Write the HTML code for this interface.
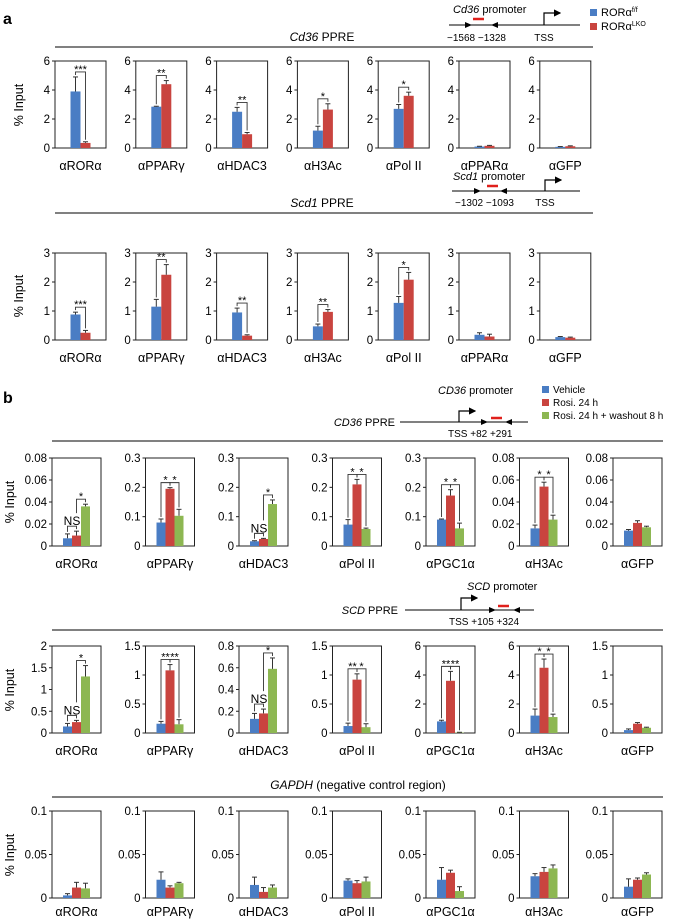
<!DOCTYPE html>
<html><head><meta charset="utf-8"><style>
html,body{margin:0;padding:0;background:#fff;}
svg{display:block;font-family:"Liberation Sans",Arial,sans-serif;}
</style></head><body>
<svg id="fig" width="675" height="919" viewBox="0 0 675 919" xmlns="http://www.w3.org/2000/svg">
<defs><marker id="ah" markerWidth="6" markerHeight="6" refX="5" refY="3" orient="auto"><path d="M0,0 L6,3 L0,6 z" fill="#000"/></marker></defs>
<text x="3" y="24" font-size="16" font-weight="bold">a</text>
<text x="3" y="403" font-size="16" font-weight="bold">b</text>
<g>
<rect x="590" y="9" width="7" height="7" fill="#4a7dc4"/><text x="601" y="16" font-size="11">RORα<tspan font-size="7" dy="-4">f/f</tspan></text>
<rect x="590" y="23" width="7" height="7" fill="#c9443f"/><text x="601" y="30" font-size="11">RORα<tspan font-size="7" dy="-4">LKO</tspan></text>
</g>
<g>
<rect x="542" y="386" width="7" height="7" fill="#4a7dc4"/><text x="553" y="393" font-size="10">Vehicle</text>
<rect x="542" y="399" width="7" height="7" fill="#c9443f"/><text x="553" y="406" font-size="10">Rosi. 24 h</text>
<rect x="542" y="412" width="7" height="7" fill="#8db752"/><text x="553" y="419" font-size="10">Rosi. 24 h + washout 8 h</text>
</g>
<g font-size="11">
<text x="453" y="13"><tspan font-style="italic">Cd36</tspan> promoter</text>
<line x1="449" y1="25" x2="580" y2="25" stroke="#000"/>
<path d="M465,22 L472,25 L465,28 z M498,22 L491,25 L498,28 z"/>
<line x1="473" y1="19" x2="484" y2="19" stroke="#e0201c" stroke-width="2.5"/>
<path d="M544,25 V13 H560" stroke="#000" fill="none" stroke-width="1.2" marker-end="url(#ah)"/>
<text x="447" y="41" font-size="10">−1568 −1328</text><text x="544" y="41" font-size="10" text-anchor="middle">TSS</text>
</g>
<g font-size="11">
<text x="453" y="180"><tspan font-style="italic">Scd1</tspan> promoter</text>
<line x1="452" y1="191" x2="580" y2="191" stroke="#000"/>
<path d="M474,188 L481,191 L474,194 z M507,188 L500,191 L507,194 z"/>
<line x1="487" y1="186" x2="498" y2="186" stroke="#e0201c" stroke-width="2.5"/>
<path d="M545,191 V180 H561" stroke="#000" fill="none" stroke-width="1.2" marker-end="url(#ah)"/>
<text x="455" y="206" font-size="10">−1302 −1093</text><text x="545" y="206" font-size="10" text-anchor="middle">TSS</text>
</g>
<g font-size="11">
<text x="438" y="394"><tspan font-style="italic">CD36</tspan> promoter</text>
<text x="395" y="426" text-anchor="end"><tspan font-style="italic">CD36</tspan> PPRE</text>
<line x1="400" y1="422" x2="528" y2="422" stroke="#000"/>
<path d="M481,419 L488,422 L481,425 z M512,419 L505,422 L512,425 z"/>
<line x1="491" y1="418" x2="502" y2="418" stroke="#e0201c" stroke-width="2.5"/>
<path d="M459,422 V411 H475" stroke="#000" fill="none" stroke-width="1.2" marker-end="url(#ah)"/>
<text x="448" y="437" font-size="10">TSS  +82  +291</text>
</g>
<g font-size="11">
<text x="467" y="590"><tspan font-style="italic">SCD</tspan> promoter</text>
<text x="398" y="614" text-anchor="end"><tspan font-style="italic">SCD</tspan> PPRE</text>
<line x1="405" y1="610" x2="534" y2="610" stroke="#000"/>
<path d="M489,607 L496,610 L489,613 z M520,607 L513,610 L520,613 z"/>
<line x1="498" y1="606" x2="509" y2="606" stroke="#e0201c" stroke-width="2.5"/>
<path d="M461,610 V598 H477" stroke="#000" fill="none" stroke-width="1.2" marker-end="url(#ah)"/>
<text x="449" y="625" font-size="10">TSS  +105 +324</text>
</g>
<text x="322" y="41" font-size="12" text-anchor="middle"><tspan font-style="italic">Cd36</tspan> PPRE</text>
<line x1="55" y1="47" x2="593" y2="47" stroke="#000"/>
<text x="322" y="207" font-size="12" text-anchor="middle"><tspan font-style="italic">Scd1</tspan> PPRE</text>
<line x1="55" y1="213" x2="593" y2="213" stroke="#000"/>
<line x1="52" y1="441" x2="663" y2="441" stroke="#000"/>
<line x1="52" y1="630" x2="663" y2="630" stroke="#000"/>
<text x="358" y="789" font-size="12" text-anchor="middle"><tspan font-style="italic">GAPDH</tspan> (negative control region)</text>
<line x1="52" y1="797" x2="663" y2="797" stroke="#000"/>
</svg>
<script>
const aCats = ['αRORα','αPPARγ','αHDAC3','αH3Ac','αPol II','αPPARα','αGFP'];
const bCats = ['αRORα','αPPARγ','αHDAC3','αPol II','αPGC1α','αH3Ac','αGFP'];
// Row a1: Cd36 PPRE
const a1Ff = [3.9,2.85,2.5,1.2,2.7,0.1,0.08];
const a1FfErr = [1.0,0.03,0.3,0.3,0.3,0.02,0.02];
const a1Lko = [0.35,4.4,0.95,2.65,3.6,0.15,0.12];
const a1LkoErr = [0.08,0.25,0.12,0.4,0.25,0.03,0.03];
const a1Ticks = ['0','2','4','6'];
const a1Max = 6;
const a1Sig = ['***','**','**','*','*','',''];
// Row a2: Scd1 PPRE
const a2Ff = [0.88,1.15,0.95,0.47,1.28,0.18,0.1];
const a2FfErr = [0.08,0.25,0.15,0.08,0.22,0.07,0.02];
const a2Lko = [0.25,2.25,0.15,0.97,2.08,0.12,0.08];
const a2LkoErr = [0.08,0.35,0.03,0.08,0.25,0.08,0.02];
const a2Ticks = ['0','1','2','3'];
const a2Max = 3;
const a2Sig = ['***','**','**','**','*','',''];
// Row b1: CD36 PPRE
const b1Veh = [0.007,0.08,0.016,0.073,0.09,0.016,0.014];
const b1VehErr = [0.004,0.012,0.002,0.017,0.002,0.003,0.001];
const b1Rosi = [0.0095,0.195,0.024,0.21,0.172,0.054,0.021];
const b1RosiErr = [0.004,0.004,0.002,0.017,0.02,0.004,0.002];
const b1Wash = [0.036,0.103,0.143,0.058,0.06,0.024,0.017];
const b1WashErr = [0.002,0.022,0.014,0.003,0.018,0.004,0.001];
const b1Max = [0.08,0.3,0.3,0.3,0.3,0.08,0.08];
const b1Ticks = [['0','0.02','0.04','0.06','0.08'],['0','0.1','0.2','0.3'],['0','0.1','0.2','0.3'],['0','0.1','0.2','0.3'],['0','0.1','0.2','0.3'],['0','0.02','0.04','0.06','0.08'],['0','0.02','0.04','0.06','0.08']];
const b1Sig = [[[0,1,'NS'],[1,2,'*']],[[0,1,'*'],[1,2,'*']],[[0,1,'NS'],[1,2,'*']],[[0,1,'*'],[1,2,'*']],[[0,1,'*'],[1,2,'*']],[[0,1,'*'],[1,2,'*']],[]];
// Row b2: SCD PPRE
const b2Veh = [0.15,0.16,0.13,0.12,0.8,1.2,0.05];
const b2VehErr = [0.07,0.04,0.05,0.05,0.08,0.45,0.02];
const b2Rosi = [0.25,1.08,0.18,0.92,3.6,4.5,0.16];
const b2RosiErr = [0.04,0.1,0.04,0.1,0.65,0.6,0.02];
const b2Wash = [1.3,0.15,0.59,0.1,0.03,1.1,0.09];
const b2WashErr = [0.25,0.08,0.1,0.06,0.02,0.2,0.01];
const b2Max = [2,1.5,0.8,1.5,6,6,1.5];
const b2Ticks = [['0','0.5','1','1.5','2'],['0','0.5','1','1.5'],['0','0.2','0.4','0.6','0.8'],['0','0.5','1','1.5'],['0','2','4','6'],['0','2','4','6'],['0','0.5','1','1.5']];
const b2Sig = [[[0,1,'NS'],[1,2,'*']],[[0,1,'**'],[1,2,'**']],[[0,1,'NS'],[1,2,'*']],[[0,1,'**'],[1,2,'*']],[[0,1,'**'],[1,2,'**']],[[0,1,'*'],[1,2,'*']],[]];
// Row b3: GAPDH
const b3Veh = [0.003,0.021,0.015,0.02,0.021,0.025,0.013];
const b3VehErr = [0.002,0.009,0.009,0.002,0.014,0.003,0.009];
const b3Rosi = [0.012,0.012,0.007,0.017,0.029,0.03,0.021];
const b3RosiErr = [0.006,0.002,0.005,0.003,0.003,0.005,0.002];
const b3Wash = [0.011,0.017,0.012,0.019,0.008,0.034,0.027];
const b3WashErr = [0.006,0.001,0.003,0.005,0.005,0.004,0.002];
const b3Ticks = ['0','0.05','0.1'];
const b3Max = 0.1;

const NS='http://www.w3.org/2000/svg';
const svg=document.getElementById('fig');
const COLORS=['#4a7dc4','#c9443f','#8db752'];
function el(tag,attrs,parent){const e=document.createElementNS(NS,tag);for(const k in attrs)e.setAttribute(k,attrs[k]);(parent||svg).appendChild(e);return e;}

function panel(x0,yTop,yZero,w,max,ticks,series,errs,barW,label,sigs,rowName,idx,labOff){
  const g=el('g',{});
  
  
  const ys=v=>yZero-v/max*(yZero-yTop);
  const box=el('rect',{x:x0,y:yTop,width:w,height:yZero-yTop,fill:'none',stroke:'#222','stroke-width':1},g);
  
  
  ticks.forEach((t,i)=>{
    const y=yTop+(yZero-yTop)*(1-parseFloat(t)/max);
    el('line',{x1:x0-3,y1:y,x2:x0,y2:y,stroke:'#222'},g);
    const tt=el('text',{x:x0-5,y:y+4,'font-size':11.5,'text-anchor':'end'},g);
    tt.textContent=t;
    
    
  });
  const n=series.length;
  const gx=x0+w/2-n*barW/2;
  const tops=[];
  series.forEach((v,s)=>{
    const bx=gx+s*barW;
    const r=el('rect',{x:bx,y:ys(v),width:barW,height:yZero-ys(v),fill:COLORS[s]},g);
    
    
    const ye=ys(v+errs[s]);
    const cx=bx+barW/2;
    el('line',{x1:cx,y1:ys(v),x2:cx,y2:ye,stroke:'#333','stroke-width':1},g);
    el('line',{x1:cx-2.5,y1:ye,x2:cx+2.5,y2:ye,stroke:'#333','stroke-width':1},g);
    tops.push({cx:cx,y:ye});
  });
  const occ=tops.map(t=>t.y);
  sigs.forEach(sg=>{
    const a=tops[sg[0]],b=tops[sg[1]];
    const ya=occ[sg[0]], yb=occ[sg[1]];
    const lvl=Math.min(ya,yb)-5;
    const p=el('path',{d:`M${a.cx},${ya-2} V${lvl} H${b.cx} V${yb-2}`,fill:'none',stroke:'#333','stroke-width':0.9},g);
    
    
    const isNS=sg[2]==='NS';
    const st=el('text',{x:(a.cx+b.cx)/2,y:isNS?lvl-1:lvl+1,'font-size':isNS?12:11,'text-anchor':'middle'},g);
    st.textContent=sg[2];
    
    
    if(isNS){occ[sg[0]]=lvl-11;occ[sg[1]]=lvl-11;}
  });
  const lt=el('text',{x:x0+w/2,y:yZero+(labOff||22),'font-size':12.5,'text-anchor':'middle'},g);
  lt.textContent=label;
  
  
}
function yTitle(x,y){
  const t=el('text',{x:x,y:y,'font-size':12.5,'text-anchor':'middle',transform:`rotate(-90 ${x} ${y})`});
  t.textContent='% Input';
  
  
}
for(let i=0;i<7;i++){
  const x0=55+i*80.8;
  panel(x0,61,148,51,a1Max,a1Ticks,[a1Ff[i],a1Lko[i]],[a1FfErr[i],a1LkoErr[i]],10,aCats[i],
        a1Sig[i]?[[0,1,a1Sig[i]]]:[],'cd36-a',i);
  panel(x0,253,340,51,a2Max,a2Ticks,[a2Ff[i],a2Lko[i]],[a2FfErr[i],a2LkoErr[i]],10,aCats[i],
        a2Sig[i]?[[0,1,a2Sig[i]]]:[],'scd1-a',i);
}
yTitle(23,105); yTitle(23,296);
for(let i=0;i<7;i++){
  const x0=52+i*93.5;
  panel(x0,458,546,49,b1Max[i],b1Ticks[i],[b1Veh[i],b1Rosi[i],b1Wash[i]],[b1VehErr[i],b1RosiErr[i],b1WashErr[i]],9,bCats[i],b1Sig[i],'cd36-b',i);
  panel(x0,646,733,49,b2Max[i],b2Ticks[i],[b2Veh[i],b2Rosi[i],b2Wash[i]],[b2VehErr[i],b2RosiErr[i],b2WashErr[i]],9,bCats[i],b2Sig[i],'scd-b',i);
  panel(x0,811,898,49,b3Max,b3Ticks,[b3Veh[i],b3Rosi[i],b3Wash[i]],[b3VehErr[i],b3RosiErr[i],b3WashErr[i]],9,bCats[i],[],'gapdh-b',i,18);
}
yTitle(14,502); yTitle(14,690); yTitle(14,855);
</script>
</body></html>
